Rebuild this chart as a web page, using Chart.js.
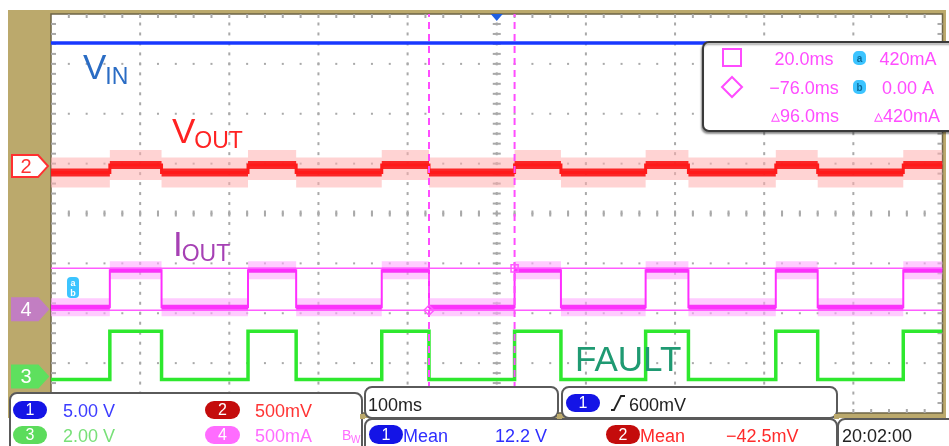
<!DOCTYPE html>
<html>
<head>
<meta charset="utf-8">
<script src="https://cdn.jsdelivr.net/npm/chart.js@4.4.1/dist/chart.umd.min.js"></script>
<style>
  html, body { margin: 0; padding: 0; background: #fff; }
  #wrap { width: 949px; height: 446px; }
</style>
</head>
<body>
<div id="wrap"><canvas id="scope" width="949" height="446"></canvas></div>
<script>
// time of each level change, ms (100 ms/div, trigger at 0)
const edgeMs = [-500, -434, -376, -279, -225, -129, -76, 20, 72, 167, 215, 313, 360, 456, 500];

// levels in screen divisions (+4 top .. -4 bottom), one per edge
const vinDiv   = [3.42, 3.42];
const voutDiv  = [0.82, 0.97, 0.82, 0.97, 0.82, 0.97, 0.82, 0.97, 0.82, 0.97, 0.82, 0.97, 0.82, 0.97, 0.97];
const ioutDiv  = [-1.88, -1.14, -1.88, -1.14, -1.88, -1.14, -1.88, -1.14, -1.88, -1.14, -1.88, -1.14, -1.88, -1.14, -1.14];
const faultDiv = [-3.33, -2.36, -3.33, -2.36, -3.33, -2.36, -3.33, -2.36, -3.33, -2.36, -3.33, -2.36, -3.33, -2.36, -2.36];

// cursors
const cursorTimeMs = [20, -76];
const cursorLevelDiv = [-1.10, -1.94];

const FONT = '"Liberation Sans", Arial, sans-serif';
const KHAKI = "#bba96c";

function stepPoints(levels) {
  return edgeMs.map((t, i) => ({ x: t, y: levels[i] }));
}
// horizontal pieces only (noise band), broken at every edge
function bandPoints(levels) {
  const pts = [];
  for (let i = 0; i < edgeMs.length - 1; i++) {
    pts.push({ x: edgeMs[i], y: levels[i] });
    pts.push({ x: edgeMs[i + 1], y: levels[i] });
    pts.push({ x: edgeMs[i + 1], y: null });
  }
  return pts;
}

function badge(ctx, x, y, w, h, fill, txt) {
  ctx.save();
  ctx.fillStyle = fill;
  ctx.beginPath();
  ctx.roundRect(x, y, w, h, h / 2);
  ctx.fill();
  ctx.fillStyle = "#fff";
  ctx.font = "16px " + FONT;
  ctx.textAlign = "center";
  ctx.textBaseline = "middle";
  ctx.fillText(txt, x + w / 2, y + h / 2 + 1);
  ctx.restore();
}

function marker(ctx, y, fill, stroke, txtColor, txt) {
  ctx.save();
  ctx.beginPath();
  ctx.moveTo(12, y - 11);
  ctx.lineTo(38, y - 11);
  ctx.lineTo(48, y);
  ctx.lineTo(38, y + 11);
  ctx.lineTo(12, y + 11);
  ctx.closePath();
  ctx.fillStyle = fill;
  ctx.fill();
  ctx.strokeStyle = stroke;
  ctx.lineWidth = 2;
  ctx.stroke();
  ctx.fillStyle = txtColor;
  ctx.font = "20px " + FONT;
  ctx.textAlign = "center";
  ctx.textBaseline = "middle";
  ctx.fillText(txt, 26, y + 1);
  ctx.restore();
}

function label(ctx, x, y, big, small, color) {
  ctx.fillStyle = color;
  ctx.font = "35px " + FONT;
  ctx.fillText(big, x, y);
  const w = ctx.measureText(big).width;
  ctx.font = "23px " + FONT;
  ctx.fillText(small, x + w - 1, y + 5);
}

function panel(ctx, x, y, w, h) {
  ctx.fillStyle = "#fff";
  ctx.strokeStyle = "#5a5a5a";
  ctx.lineWidth = 2;
  ctx.beginPath();
  ctx.roundRect(x, y, w, h, 7);
  ctx.fill();
  ctx.stroke();
}

const screenPlugin = {
  id: "screen",
  beforeDatasetsDraw(chart) {
    const { ctx, chartArea: a } = chart;
    const xs = chart.scales.x, ys = chart.scales.y;
    ctx.save();
    ctx.fillStyle = "#fff";
    ctx.fillRect(0, 0, chart.width, chart.height);
    ctx.fillStyle = KHAKI;
    ctx.fillRect(8, 10, 938, 408);
    ctx.fillStyle = "#fff";
    ctx.fillRect(a.left, a.top, a.right - a.left, a.bottom - a.top);
    ctx.strokeStyle = "#6d6446";
    ctx.lineWidth = 1.5;
    ctx.strokeRect(a.left, a.top, a.right - a.left, a.bottom - a.top);

    // graticule dots
    ctx.fillStyle = "#a9a9a9";
    for (let i = -4; i <= 4; i++) {
      const px = xs.getPixelForValue(i * 100);
      for (let j = -19; j <= 19; j++) {
        ctx.fillRect(px - 1, ys.getPixelForValue(j * 0.2) - 1.5, 2, 3);
      }
    }
    for (let j = -3; j <= 3; j++) {
      const py = ys.getPixelForValue(j);
      for (let i = -24; i <= 24; i++) {
        ctx.fillRect(xs.getPixelForValue(i * 20) - 1, py - 1, 2, 2);
      }
    }
    // centre axes and edge ticks
    const cx = xs.getPixelForValue(0), cy = ys.getPixelForValue(0);
    for (let j = -19; j <= 19; j++) {
      const py = ys.getPixelForValue(j * 0.2);
      ctx.fillRect(cx - 4, py - 1, 8, 2);
      ctx.fillRect(a.left, py - 1, 5, 2);
      ctx.fillRect(a.right - 5, py - 1, 5, 2);
    }
    for (let i = -24; i <= 24; i++) {
      const px = xs.getPixelForValue(i * 20);
      ctx.fillRect(px - 1, cy - 3, 2, 6);
      ctx.fillRect(px - 1, a.top, 2, 4);
      ctx.fillRect(px - 1, a.bottom - 4, 2, 4);
    }
    // trigger position marker
    ctx.fillStyle = "#1f5fe0";
    ctx.beginPath();
    ctx.moveTo(cx - 6, a.top);
    ctx.lineTo(cx + 6, a.top);
    ctx.lineTo(cx, a.top + 7);
    ctx.closePath();
    ctx.fill();
    ctx.restore();
  },
  afterDraw(chart) {
    const { ctx } = chart;
    const ys = chart.scales.y;
    ctx.save();

    // trace labels
    label(ctx, 83, 79, "V", "IN", "#2a6cc4");
    label(ctx, 172, 143, "V", "OUT", "#ff2222");
    label(ctx, 173, 256, "I", "OUT", "#a640b4");
    ctx.fillStyle = "#1f9a72";
    ctx.font = "35px " + FONT;
    ctx.fillText("FAULT", 575, 371);

    // cursor a/b tag
    ctx.fillStyle = "#3cc4ff";
    ctx.beginPath();
    ctx.roundRect(67, 277, 12, 21, 4);
    ctx.fill();
    ctx.fillStyle = "#fff";
    ctx.font = "bold 9px " + FONT;
    ctx.textAlign = "center";
    ctx.fillText("a", 73, 286);
    ctx.fillText("b", 73, 296);
    ctx.textAlign = "left";

    // channel ground markers
    marker(ctx, ys.getPixelForValue(0.95), "#fff", "#ff3030", "#ff3030", "2");
    marker(ctx, ys.getPixelForValue(-1.92), "#c27ec2", "#c27ec2", "#fff", "4");
    marker(ctx, ys.getPixelForValue(-3.27), "#5ee05e", "#5ee05e", "#fff", "3");

    // cursor readout box
    ctx.save();
    ctx.shadowColor = "rgba(0,0,0,0.35)";
    ctx.shadowOffsetX = -1;
    ctx.shadowOffsetY = 2;
    ctx.shadowBlur = 2;
    ctx.fillStyle = "#fff";
    ctx.strokeStyle = "#3a3a3a";
    ctx.lineWidth = 2;
    ctx.beginPath();
    ctx.roundRect(703, 42, 260, 89, 6);
    ctx.fill();
    ctx.stroke();
    ctx.restore();
    const pink = "#ff4cff";
    ctx.strokeStyle = pink;
    ctx.lineWidth = 2;
    ctx.strokeRect(723, 49, 18, 17);
    ctx.beginPath();
    ctx.moveTo(732, 77);
    ctx.lineTo(742, 87);
    ctx.lineTo(732, 97);
    ctx.lineTo(722, 87);
    ctx.closePath();
    ctx.stroke();
    ctx.fillStyle = pink;
    ctx.font = "18px " + FONT;
    ctx.textAlign = "center";
    ctx.fillText("20.0ms", 804, 65);
    ctx.fillText("\u221276.0ms", 804, 94);
    ctx.fillText("\u25b596.0ms", 805, 122);
    ctx.fillText("420mA", 908, 65);
    ctx.fillText("0.00 A", 908, 94);
    ctx.fillText("\u25b5420mA", 907, 122);
    ctx.fillStyle = "#3cc4ff";
    ctx.beginPath();
    ctx.roundRect(853, 51, 13, 14, 5);
    ctx.roundRect(853, 80, 13, 14, 5);
    ctx.fill();
    ctx.fillStyle = "#0a6a9a";
    ctx.font = "bold 10px " + FONT;
    ctx.fillText("a", 859.5, 62);
    ctx.fillText("b", 859.5, 91);
    ctx.textAlign = "left";

    // bottom info panels
    panel(ctx, 10, 393, 352, 70);
    badge(ctx, 13, 401, 34, 18, "#1414e6", "1");
    badge(ctx, 205, 401, 35, 18, "#c40c0c", "2");
    badge(ctx, 13, 426, 34, 18, "#5cdc5c", "3");
    badge(ctx, 205, 426, 35, 18, "#ff6cff", "4");
    ctx.font = "18px " + FONT;
    ctx.fillStyle = "#3c3cff";
    ctx.fillText("5.00 V", 63, 417);
    ctx.fillStyle = "#ff3434";
    ctx.fillText("500mV", 255, 417);
    ctx.fillStyle = "#78e078";
    ctx.fillText("2.00 V", 63, 442);
    ctx.fillStyle = "#ff6cff";
    ctx.fillText("500mA", 255, 442);
    ctx.font = "14px " + FONT;
    ctx.fillText("B", 342, 440);
    ctx.font = "10px " + FONT;
    ctx.fillText("W", 351, 443);

    panel(ctx, 365, 387, 193, 31);
    panel(ctx, 562, 387, 275, 31);
    panel(ctx, 365, 419, 472, 40);
    panel(ctx, 838, 419, 120, 40);
    ctx.fillStyle = KHAKI;
    ctx.fillRect(360, 414, 5, 5);
    ctx.fillRect(557, 414, 5, 5);
    ctx.fillRect(834, 414, 5, 5);

    ctx.fillStyle = "#222";
    ctx.font = "18px " + FONT;
    ctx.fillText("100ms", 368, 411);
    badge(ctx, 566, 394, 34, 18, "#1414e6", "1");
    ctx.strokeStyle = "#222";
    ctx.lineWidth = 1.8;
    ctx.beginPath();
    ctx.moveTo(611, 410);
    ctx.lineTo(614, 410);
    ctx.lineTo(621, 396);
    ctx.lineTo(625, 396);
    ctx.stroke();
    ctx.fillStyle = "#222";
    ctx.font = "18px " + FONT;
    ctx.fillText("600mV", 629, 411);

    badge(ctx, 369, 425, 34, 19, "#1414e6", "1");
    badge(ctx, 606, 425, 34, 19, "#c40c0c", "2");
    ctx.font = "18px " + FONT;
    ctx.fillStyle = "#2f2fff";
    ctx.fillText("Mean", 403, 442);
    ctx.fillText("12.2 V", 495, 442);
    ctx.fillStyle = "#ff2a2a";
    ctx.fillText("Mean", 640, 442);
    ctx.fillText("\u221242.5mV", 726, 442);
    ctx.fillStyle = "#222";
    ctx.fillText("20:02:00", 842, 442);

    ctx.restore();
  }
};

const lineBase = { pointRadius: 0, fill: false, tension: 0, borderCapStyle: "butt", borderJoinStyle: "miter" };

new Chart(document.getElementById("scope"), {
  type: "line",
  data: {
    datasets: [
      { ...lineBase, label: "cursor t1", data: [{ x: cursorTimeMs[0], y: -4 }, { x: cursorTimeMs[0], y: 4 }],
        borderColor: "#ff4cff", borderWidth: 2, borderDash: [7, 5], order: 1 },
      { ...lineBase, label: "cursor t2", data: [{ x: cursorTimeMs[1], y: -4 }, { x: cursorTimeMs[1], y: 4 }],
        borderColor: "#ff4cff", borderWidth: 2, borderDash: [7, 5], order: 1 },
      { ...lineBase, label: "cursor a", data: [{ x: -500, y: cursorLevelDiv[0] }, { x: 500, y: cursorLevelDiv[0] }],
        borderColor: "#ff5cff", borderWidth: 1.5, order: 5 },
      { ...lineBase, label: "cursor b", data: [{ x: -500, y: cursorLevelDiv[1] }, { x: 500, y: cursorLevelDiv[1] }],
        borderColor: "#ff5cff", borderWidth: 1.5, order: 5 },
      { label: "cursor marks", data: [{ x: cursorTimeMs[0], y: cursorLevelDiv[0] }, { x: cursorTimeMs[1], y: cursorLevelDiv[1] }],
        showLine: false, pointStyle: ["rect", "rectRot"], pointRadius: 5, pointBorderWidth: 1.5,
        pointBorderColor: "#ff5cff", pointBackgroundColor: "rgba(255,255,255,0)", order: 0 },
      { ...lineBase, label: "VIN", data: [{ x: -500, y: vinDiv[0] }, { x: 500, y: vinDiv[1] }],
        borderColor: "#1838ff", borderWidth: 3.5, order: 2 },
      { ...lineBase, label: "VOUT band", data: bandPoints(voutDiv), spanGaps: false,
        borderColor: "rgba(255,175,175,0.55)", borderWidth: 30, order: 9 },
      { ...lineBase, label: "VOUT", data: stepPoints(voutDiv), stepped: true,
        borderColor: "#ff1a1a", borderWidth: 3, order: 8 },
      { ...lineBase, label: "VOUT core", data: bandPoints(voutDiv), spanGaps: false,
        borderColor: "rgba(250,20,20,0.9)", borderWidth: 8, order: 8 },
      { ...lineBase, label: "IOUT band", data: bandPoints(ioutDiv), spanGaps: false,
        borderColor: "rgba(255,170,255,0.6)", borderWidth: 18, order: 7 },
      { ...lineBase, label: "IOUT", data: stepPoints(ioutDiv), stepped: true,
        borderColor: "#ff2eff", borderWidth: 2, order: 6 },
      { ...lineBase, label: "IOUT core", data: bandPoints(ioutDiv), spanGaps: false,
        borderColor: "rgba(245,40,245,0.9)", borderWidth: 5, order: 6 },
      { ...lineBase, label: "FAULT", data: stepPoints(faultDiv), stepped: true,
        borderColor: "#2ee82e", borderWidth: 3.5, order: 3 }
    ]
  },
  options: {
    responsive: false,
    animation: false,
    events: [],
    layout: { padding: { left: 51, top: 14, right: 6, bottom: 33 } },
    plugins: { legend: { display: false }, tooltip: { enabled: false } },
    scales: {
      x: { type: "linear", min: -500, max: 500, display: false },
      y: { type: "linear", min: -4, max: 4, display: false }
    }
  },
  plugins: [screenPlugin]
});
</script>
</body>
</html>
